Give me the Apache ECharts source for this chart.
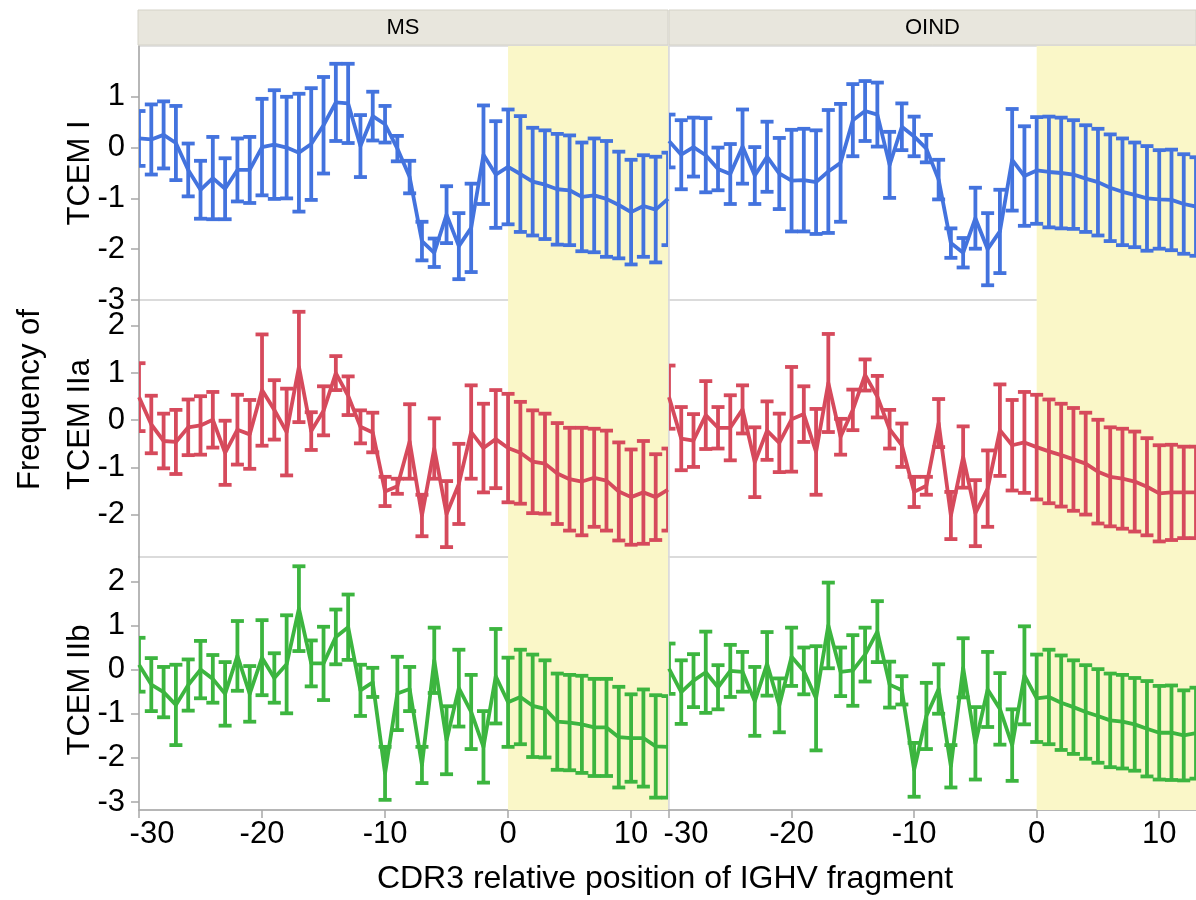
<!DOCTYPE html>
<html>
<head>
<meta charset="utf-8">
<script src="https://cdn.jsdelivr.net/npm/echarts@6/dist/echarts.min.js"></script>
<style>
  html, body { margin: 0; padding: 0; background: #ffffff; }
  #chart { width: 1196px; height: 900px; }
</style>
</head>
<body>
<div id="chart"></div>
<script>
// CDR3 relative positions (x)
const positions = [-30, -29, -28, -27, -26, -25, -24, -23, -22, -21, -20, -19, -18, -17, -16, -15,
  -14, -13, -12, -11, -10, -9, -8, -7, -6, -5, -4, -3, -2, -1, 0, 1, 2, 3, 4, 5, 6, 7, 8, 9, 10, 11, 12, 13];

const groups = ['MS', 'OIND'];
const xTicks = [-30, -20, -10, 0, 10];

// TCEM I
const msTcemIMean = [0.18, 0.16, 0.25, 0.09, -0.44, -0.83, -0.60, -0.81, -0.44, -0.44, 0.01, 0.06, 0.00, -0.10, 0.07, 0.44,
  0.89, 0.87, 0.03, 0.62, 0.46, -0.02, -0.58, -1.84, -2.07, -1.32, -1.94, -1.58, -0.14, -0.53, -0.38, -0.52, -0.67, -0.73,
  -0.82, -0.84, -0.97, -0.94, -1.01, -1.13, -1.27, -1.15, -1.22, -1.01];
const msTcemIErr = [0.54, 0.69, 0.66, 0.73, 0.52, 0.57, 0.81, 0.60, 0.62, 0.65, 0.95, 1.07, 1.00, 1.16, 1.10, 0.95,
  0.76, 0.78, 0.61, 0.48, 0.36, 0.25, 0.32, 0.38, 0.28, 0.56, 0.65, 0.87, 0.97, 1.05, 1.13, 1.14, 1.06, 1.07,
  1.09, 1.08, 1.07, 1.12, 1.14, 1.05, 1.03, 1.00, 1.04, 0.91];
const oindTcemIMean = [0.13, -0.14, 0.01, -0.15, -0.42, -0.52, 0.02, -0.55, -0.18, -0.51, -0.65, -0.64, -0.68, -0.47, -0.30, 0.54,
  0.72, 0.65, -0.34, 0.41, 0.22, -0.02, -0.63, -1.88, -2.07, -1.39, -2.00, -1.65, -0.24, -0.56, -0.45, -0.48, -0.50, -0.53,
  -0.61, -0.68, -0.79, -0.87, -0.93, -1.00, -1.02, -1.03, -1.11, -1.16];
const oindTcemIErr = [0.52, 0.68, 0.58, 0.73, 0.42, 0.59, 0.73, 0.56, 0.69, 0.70, 1.00, 1.01, 1.02, 1.21, 1.16, 0.71,
  0.59, 0.63, 0.65, 0.46, 0.39, 0.27, 0.39, 0.29, 0.29, 0.60, 0.71, 0.82, 1.00, 0.98, 1.05, 1.09, 1.09, 1.07,
  1.05, 1.05, 1.05, 1.05, 1.03, 1.03, 0.97, 0.99, 0.98, 0.97];

// TCEM IIa
const msTcemIIaMean = [0.49, -0.09, -0.44, -0.46, -0.15, -0.11, 0.01, -0.69, -0.20, -0.30, 0.64, 0.22, -0.25, 1.13, -0.23, 0.20,
  1.00, 0.52, -0.14, -0.26, -1.51, -1.40, -0.45, -2.02, -0.60, -1.99, -1.35, -0.25, -0.59, -0.40, -0.59, -0.69, -0.88, -0.92,
  -1.13, -1.25, -1.30, -1.22, -1.28, -1.51, -1.63, -1.53, -1.63, -1.47];
const msTcemIIaErr = [0.72, 0.61, 0.58, 0.68, 0.59, 0.62, 0.59, 0.68, 0.74, 0.73, 1.18, 0.63, 0.92, 1.17, 0.40, 0.52,
  0.36, 0.41, 0.35, 0.42, 0.31, 0.16, 0.79, 0.44, 0.64, 0.70, 0.85, 0.99, 0.94, 1.04, 1.15, 1.08, 1.09, 1.06,
  1.07, 1.09, 1.14, 1.04, 1.06, 1.04, 1.01, 1.09, 0.91, 0.87];
const oindTcemIIaMean = [0.49, -0.39, -0.43, 0.11, -0.16, -0.16, 0.23, -0.89, -0.22, -0.48, 0.02, 0.13, -0.67, 0.79, -0.35, 0.22,
  0.96, 0.50, -0.19, -0.53, -1.52, -1.39, -0.06, -2.02, -0.78, -1.97, -1.45, -0.21, -0.53, -0.47, -0.57, -0.66, -0.74, -0.83,
  -0.92, -1.09, -1.20, -1.24, -1.30, -1.41, -1.55, -1.53, -1.53, -1.53];
const oindTcemIIaErr = [0.67, 0.67, 0.56, 0.72, 0.44, 0.69, 0.51, 0.74, 0.62, 0.62, 1.11, 0.59, 0.91, 1.04, 0.38, 0.43,
  0.33, 0.44, 0.41, 0.46, 0.32, 0.19, 0.51, 0.50, 0.65, 0.70, 0.81, 0.97, 0.96, 1.07, 1.11, 1.10, 1.09, 1.09,
  1.08, 1.10, 1.05, 1.06, 1.06, 1.03, 1.02, 1.01, 0.97, 0.97];

// TCEM IIb
const msTcemIIbMean = [0.11, -0.34, -0.51, -0.80, -0.35, 0.00, -0.21, -0.55, 0.31, -0.55, 0.27, -0.19, 0.12, 1.38, 0.14, 0.14,
  0.74, 0.96, -0.47, -0.29, -2.35, -0.54, -0.44, -2.16, 0.21, -1.60, -0.42, -0.96, -1.75, -0.15, -0.74, -0.62, -0.82, -0.89,
  -1.18, -1.20, -1.24, -1.31, -1.31, -1.53, -1.55, -1.55, -1.74, -1.75];
const msTcemIIbErr = [0.61, 0.60, 0.57, 0.91, 0.58, 0.65, 0.54, 0.72, 0.79, 0.63, 0.85, 0.56, 1.11, 0.96, 0.52, 0.83,
  0.62, 0.74, 0.58, 0.33, 0.60, 0.83, 0.50, 0.41, 0.74, 0.77, 0.87, 0.84, 0.81, 1.07, 1.01, 1.07, 1.16, 1.10,
  1.09, 1.08, 1.10, 1.10, 1.10, 1.14, 0.99, 1.10, 1.16, 1.15];
const oindTcemIIbMean = [0.02, -0.51, -0.25, -0.06, -0.40, -0.03, -0.05, -0.72, 0.13, -0.81, 0.29, -0.03, -0.65, 1.00, -0.05, -0.02,
  0.34, 0.86, -0.34, -0.47, -2.27, -1.05, -0.44, -2.19, 0.04, -1.67, -0.45, -0.89, -1.71, -0.13, -0.65, -0.62, -0.75, -0.85,
  -0.96, -1.05, -1.15, -1.18, -1.24, -1.34, -1.43, -1.43, -1.49, -1.44];
const oindTcemIIbErr = [0.57, 0.72, 0.60, 0.92, 0.50, 0.59, 0.45, 0.78, 0.72, 0.61, 0.66, 0.53, 1.18, 0.97, 0.55, 0.80,
  0.61, 0.69, 0.52, 0.32, 0.61, 0.75, 0.56, 0.48, 0.67, 0.82, 0.85, 0.81, 0.81, 1.11, 0.99, 1.07, 1.07, 1.06,
  1.06, 1.06, 1.06, 1.06, 1.05, 1.08, 1.06, 1.07, 1.02, 1.03];

// Row definitions: one row per TCEM class
const rows = [
  { title: ['TCEM I'], color: '#4373de', min: -3, max: 2, ticks: [-3, -2, -1, 0, 1],
    series: [[msTcemIMean, msTcemIErr], [oindTcemIMean, oindTcemIErr]] },
  { title: ['Frequency of', 'TCEM IIa'], color: '#d64a5c', min: -2.9, max: 2.55, ticks: [-2, -1, 0, 1, 2],
    series: [[msTcemIIaMean, msTcemIIaErr], [oindTcemIIaMean, oindTcemIIaErr]] },
  { title: ['TCEM IIb'], color: '#3cb53f', min: -3.18, max: 2.55, ticks: [-3, -2, -1, 0, 1, 2],
    series: [[msTcemIIbMean, msTcemIIbErr], [oindTcemIIbMean, oindTcemIIbErr]] }
];

// Layout of the panel lattice
const colBoxes = [{ left: 139, width: 529, firstLabelPad: 26 }, { left: 669, width: 528, firstLabelPad: 34 }];
const rowBoxes = [{ top: 46, height: 254 }, { top: 300, height: 257 }, { top: 557, height: 253 }];
const highlight = [0, 13];

const FONT = 'Liberation Sans, Arial, sans-serif';
const TICK_FONT = 31;
const STROKE = 3.8;
const grids = [], xAxes = [], yAxes = [], series = [];

rows.forEach((row, r) => {
  groups.forEach((g, c) => {
    const idx = grids.length;
    const isBottom = r === rows.length - 1;
    grids.push({
      left: colBoxes[c].left, width: colBoxes[c].width,
      top: rowBoxes[r].top, height: rowBoxes[r].height,
      show: true, borderColor: '#d9d9d9', borderWidth: 1.5, backgroundColor: 'transparent'
    });
    xAxes.push({
      gridIndex: idx, type: 'value', min: -30, max: 13, interval: 10,
      axisLine: { show: isBottom, onZero: false, lineStyle: { color: '#a8a8a8', width: 1.5 } },
      axisTick: { show: isBottom, length: 8, lineStyle: { color: '#a8a8a8', width: 1.5 }, customValues: xTicks },
      axisLabel: {
        show: isBottom, customValues: xTicks, fontSize: TICK_FONT, color: '#000', fontFamily: FONT, margin: 9,
        // the leftmost label is nudged inside its panel
        formatter: v => (v === xTicks[0] ? '{first|' + v + '}' : String(v)),
        rich: { first: { fontSize: TICK_FONT, fontFamily: FONT, color: '#000',
          padding: [0, 0, 0, colBoxes[c].firstLabelPad] } }
      },
      splitLine: { show: false }
    });
    yAxes.push({
      gridIndex: idx, type: 'value', min: row.min, max: row.max,
      axisLine: { show: c === 0, onZero: false, lineStyle: { color: '#a8a8a8', width: 1.5 } },
      axisTick: { show: c === 0, length: 8, lineStyle: { color: '#a8a8a8', width: 1.5 }, customValues: row.ticks },
      axisLabel: { show: c === 0, customValues: row.ticks, fontSize: TICK_FONT, color: '#000', fontFamily: FONT, margin: 14 },
      splitLine: { show: false }
    });

    const [mean, err] = row.series[c];

    // shaded CDR3 region (position 0 onward)
    series.push({
      type: 'custom', xAxisIndex: idx, yAxisIndex: idx, z: 1, silent: true,
      data: [highlight],
      encode: { x: [0, 1] },
      renderItem(params, api) {
        const cs = params.coordSys;
        const x0 = api.coord([api.value(0), row.min])[0];
        const x1 = api.coord([api.value(1), row.min])[0];
        return { type: 'rect', shape: { x: x0, y: cs.y, width: x1 - x0, height: cs.height },
          style: { fill: '#faf7c8' } };
      }
    });

    // error bars (mean ± err)
    series.push({
      type: 'custom', xAxisIndex: idx, yAxisIndex: idx, z: 3, clip: true, silent: true,
      data: positions.map((p, i) => [p, mean[i] - err[i], mean[i] + err[i]]),
      encode: { x: 0, y: [1, 2] },
      renderItem(params, api) {
        const x = api.value(0);
        const lo = api.coord([x, api.value(1)]);
        const hi = api.coord([x, api.value(2)]);
        const w = 6.5;
        const st = { stroke: row.color, lineWidth: STROKE };
        return { type: 'group', children: [
          { type: 'line', shape: { x1: lo[0], y1: lo[1], x2: hi[0], y2: hi[1] }, style: st },
          { type: 'line', shape: { x1: lo[0] - w, y1: lo[1], x2: lo[0] + w, y2: lo[1] }, style: st },
          { type: 'line', shape: { x1: hi[0] - w, y1: hi[1], x2: hi[0] + w, y2: hi[1] }, style: st }
        ] };
      }
    });

    // mean line
    series.push({
      type: 'line', xAxisIndex: idx, yAxisIndex: idx, z: 4, silent: true,
      data: positions.map((p, i) => [p, mean[i]]),
      showSymbol: false, symbol: 'none',
      lineStyle: { color: row.color, width: STROKE, join: 'round' }
    });
  });
});

// strip headers and axis titles
const graphics = [];
groups.forEach((g, c) => {
  const left = colBoxes[c].left - (c === 0 ? 1 : 0);
  const right = c === 0 ? 668 : 1196;
  graphics.push({ type: 'rect', shape: { x: left, y: 10, width: right - left, height: 35 },
    style: { fill: '#e8e6dd', stroke: '#d4d2c8', lineWidth: 1 }, z: 10 });
  graphics.push({ type: 'text', x: (left + right) / 2, y: 28, z: 11,
    style: { text: g, font: '22px ' + FONT, fill: '#000', textAlign: 'center', textVerticalAlign: 'middle' } });
});
// row titles (rotated, reading bottom to top)
const rowTitleAnchors = [
  { x: 80, y: 173, align: 'center' },
  { x: 80, y: 490, align: 'left' },
  { x: 80, y: 690, align: 'center' }
];
rows.forEach((row, r) => {
  const a = rowTitleAnchors[r];
  graphics.push({ type: 'text', x: a.x - (row.title.length - 1) * 25, y: a.y, rotation: Math.PI / 2, z: 11,
    style: { text: row.title.join('\n'), font: '31px ' + FONT, fill: '#000', textAlign: a.align,
      textVerticalAlign: 'middle', lineHeight: 50 } });
});
graphics.push({ type: 'text', x: 665, y: 879, z: 11,
  style: { text: 'CDR3 relative position of IGHV fragment', font: '32px ' + FONT, fill: '#000',
    textAlign: 'center', textVerticalAlign: 'middle' } });

const chart = echarts.init(document.getElementById('chart'), null, { renderer: 'canvas' });
chart.setOption({
  animation: false,
  backgroundColor: '#ffffff',
  grid: grids, xAxis: xAxes, yAxis: yAxes, series: series,
  graphic: graphics
});
</script>
</body>
</html>
